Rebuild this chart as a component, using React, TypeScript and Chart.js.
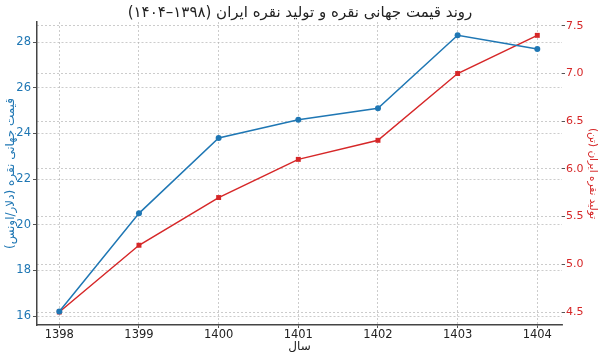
import React, { useEffect, useRef } from "react";
import { Chart, registerables } from "chart.js";

Chart.register(...registerables);

const years = [1398, 1399, 1400, 1401, 1402, 1403, 1404];
const silverPrice = [16.2, 20.5, 23.8, 24.6, 25.1, 28.3, 27.7];
const silverProduction = [4.5, 5.2, 5.7, 6.1, 6.3, 7.0, 7.4];
const leftTicks = [16, 18, 20, 22, 24, 26, 28];
const rightTicks = [4.5, 5.0, 5.5, 6.0, 6.5, 7.0, 7.5];

const titleText = "روند قیمت جهانی نقره و تولید نقره ایران (۱۳۹۸–۱۴۰۴)";
const xTitle = "سال";
const leftTitle = "قیمت جهانی نقره (دلار/اونس)";
const rightTitle = "تولید نقره ایران (تن)";

const BLUE = "#1f77b4";
const RED = "#d62728";
const FONT = "'DejaVu Sans', sans-serif";

export default function App() {
  const ref = useRef<HTMLCanvasElement | null>(null);
  useEffect(() => {
    if (!ref.current) return;
    const gridCommon = {
      color: "rgba(170,170,170,0.75)",
      lineWidth: 0.8,
      tickColor: "#555",
      tickLength: 4,
      tickWidth: 1,
    };
    const chart = new Chart(ref.current, {
      type: "line",
      data: {
        datasets: [
          {
            label: leftTitle,
            data: years.map((y, i) => ({ x: y, y: silverPrice[i] })),
            borderColor: BLUE,
            backgroundColor: BLUE,
            borderWidth: 1.5,
            pointStyle: "circle",
            pointRadius: 3,
            pointBorderWidth: 0,
            yAxisID: "y",
          },
          {
            label: rightTitle,
            data: years.map((y, i) => ({ x: y, y: silverProduction[i] })),
            borderColor: RED,
            backgroundColor: RED,
            borderWidth: 1.5,
            pointStyle: "rect",
            pointRadius: 3.5,
            pointBorderWidth: 0,
            yAxisID: "y1",
          },
        ],
      },
      options: {
        animation: false,
        responsive: true,
        maintainAspectRatio: false,
        layout: { padding: 0 },
        plugins: {
          legend: { display: false },
          tooltip: { enabled: false },
          title: {
            display: true,
            text: titleText,
            color: "#222",
            font: { family: FONT, size: 15, weight: "normal", lineHeight: 1.2 },
            padding: { top: 4, bottom: 0 },
          },
        },
        scales: {
          x: {
            type: "linear",
            position: "bottom",
            min: 1397.72,
            max: 1404.31,
            afterBuildTicks: (s: any) => {
              s.ticks = years.map((v) => ({ value: v }));
            },
            afterFit: (s: any) => {
              s.height = 33;
            },
            ticks: {
              color: "#222",
              font: { family: FONT, size: 11.5 },
              padding: 0,
              callback: (v: any) => String(v),
            },
            grid: { ...gridCommon, tickLength: 3 },
            border: { display: true, color: "#444", width: 1.5, dash: [2, 2] },
            title: {
              display: true,
              text: xTitle,
              color: "#222",
              font: { family: FONT, size: 12 },
              padding: { top: 0, bottom: 4 },
            },
          },
          y: {
            type: "linear",
            position: "left",
            min: 15.61,
            max: 28.88,
            afterBuildTicks: (s: any) => {
              s.ticks = leftTicks.map((v) => ({ value: v }));
            },
            afterFit: (s: any) => {
              s.width = 37;
            },
            ticks: {
              color: BLUE,
              font: { family: FONT, size: 11.5 },
              padding: 2,
              callback: (v: any) => String(v),
            },
            grid: { ...gridCommon },
            border: { display: true, color: "#444", width: 1.5, dash: [2, 2] },
            title: {
              display: true,
              text: leftTitle,
              color: BLUE,
              font: { family: FONT, size: 12 },
              padding: 4,
            },
          },
          y1: {
            type: "linear",
            position: "right",
            min: 4.364,
            max: 7.54,
            afterBuildTicks: (s: any) => {
              s.ticks = rightTicks.map((v) => ({ value: v }));
            },
            afterFit: (s: any) => {
              s.width = 38;
            },
            ticks: {
              color: RED,
              font: { family: FONT, size: 11 },
              padding: 1,
              callback: (v: any) => Number(v).toFixed(1),
            },
            grid: { ...gridCommon, tickLength: 3, drawOnChartArea: true },
            border: { display: false, dash: [2, 2] },
            title: {
              display: true,
              text: rightTitle,
              color: RED,
              font: { family: FONT, size: 10.5 },
              padding: 0.5,
            },
          },
        },
      },
    } as any);
    return () => chart.destroy();
  }, []);
  return (
    <div style={{ position: "fixed", left: 0, top: 0, width: 600, height: 358, background: "#fff" }}>
      <canvas ref={ref} />
    </div>
  );
}
